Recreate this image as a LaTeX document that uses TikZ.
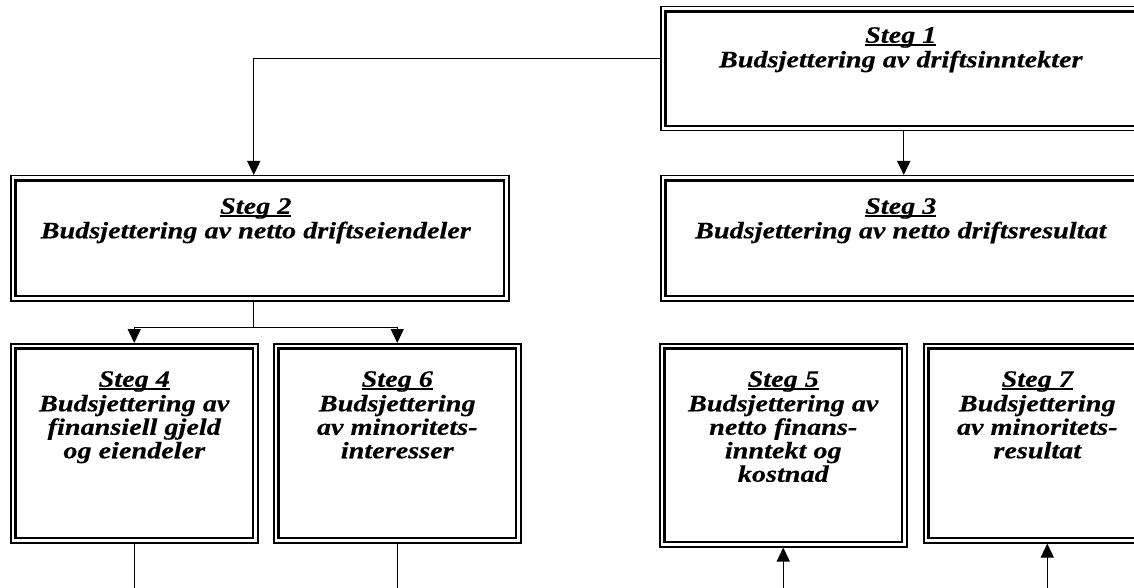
\documentclass[tikz,border=0pt]{standalone}
\usepackage{fontspec}
\setmainfont{Liberation Serif}
\newfontfamily\boxfont[FakeStretch=1.2,FakeBold=0.3]{Liberation Serif}
\usetikzlibrary{arrows.meta}
\newsavebox\stegbox
\newcommand\stegul[1]{\sbox\stegbox{#1}\rlap{\rule[-3pt]{\wd\stegbox}{1.6pt}}\usebox\stegbox}
\tikzset{
  boxo/.style={draw, line width=1.5pt, rectangle, inner sep=0pt, anchor=north west},
  boxi/.style={line width=2.2pt},
  txt/.style={anchor=north, align=center, inner sep=0pt, font=\boxfont\fontsize{23.5}{23.5}\selectfont\bfseries\itshape, execute at begin node={\lineskiplimit=-30pt\relax}},
  conn/.style={line width=1.3pt},
  arr/.style={conn, -{Triangle[width=13pt,length=14pt]}}
}
\newcommand\innerframe[1]{\draw[boxi] ([xshift=5.5pt,yshift=-5.5pt]#1.north west) rectangle ([xshift=-5.5pt,yshift=5.5pt]#1.south east);}
\begin{document}
\begin{tikzpicture}[x=1pt,y=-1pt]
\useasboundingbox (0,0) rectangle (1134,588);
\clip (0,0) rectangle (1134,588);
% boxes
\node[boxo, minimum width=486pt, minimum height=124pt] (b1) at (660,6) {};
\node[boxo, minimum width=498pt, minimum height=125pt] (b2) at (10,175) {};
\node[boxo, minimum width=486pt, minimum height=125pt] (b3) at (660,175) {};
\node[boxo, minimum width=247pt, minimum height=199pt] (b4) at (10,343) {};
\node[boxo, minimum width=247pt, minimum height=199pt] (b6) at (273,343) {};
\node[boxo, minimum width=247pt, minimum height=203pt] (b5) at (659,343) {};
\node[boxo, minimum width=247pt, minimum height=199pt] (b7) at (923,343) {};
\innerframe{b1}\innerframe{b2}\innerframe{b3}\innerframe{b4}\innerframe{b6}\innerframe{b5}\innerframe{b7}
% texts
\node[txt] (t1) at ([xshift=-3pt,yshift=-21pt]b1.north) {\stegul{Steg 1}\\[1pt]Budsjettering av driftsinntekter};
\node[txt] (t2) at ([xshift=-4pt,yshift=-23pt]b2.north) {\stegul{Steg 2}\\[1pt]Budsjettering av netto driftseiendeler};
\node[txt] (t3) at ([xshift=-3pt,yshift=-23pt]b3.north) {\stegul{Steg 3}\\[1pt]Budsjettering av netto driftsresultat};
\node[txt] (t4) at ([yshift=-28pt]b4.north) {\stegul{Steg 4}\\[1pt]Budsjettering av\\finansiell gjeld\\og eiendeler};
\node[txt] (t6) at ([yshift=-28pt]b6.north) {\stegul{Steg 6}\\[1pt]Budsjettering\\av minoritets-\\interesser};
\node[txt] (t5) at ([yshift=-28pt]b5.north) {\stegul{Steg 5}\\[1pt]Budsjettering av\\netto finans-\\inntekt og\\kostnad};
\node[txt] (t7) at ([xshift=-10pt,yshift=-28pt]b7.north) {\stegul{Steg 7}\\[1pt]Budsjettering\\av minoritets-\\resultat};
% connectors
\draw[arr] ([yshift=10pt]b1.west) -| ([xshift=-6pt]b2.north);
\draw[arr] (b1.south) -- (b3.north);
\coordinate (j) at ([xshift=-6pt,yshift=-26pt]b2.south);
\draw[conn] ([xshift=-6pt]b2.south) -- (j);
\draw[arr] (j) -| (b4.north);
\draw[arr] (j) -| (b6.north);
\coordinate (e4) at ([yshift=-60pt]b4.south);
\coordinate (e6) at ([yshift=-60pt]b6.south);
\coordinate (e5) at ([yshift=-60pt]b5.south);
\coordinate (e7) at ([yshift=-60pt]b7.south);
\draw[conn] (b4.south) -- (e4);
\draw[conn] (b6.south) -- (e6);
\draw[arr] (e5) -- (b5.south);
\draw[arr] (e7) -- (b7.south);
\end{tikzpicture}
\end{document}
